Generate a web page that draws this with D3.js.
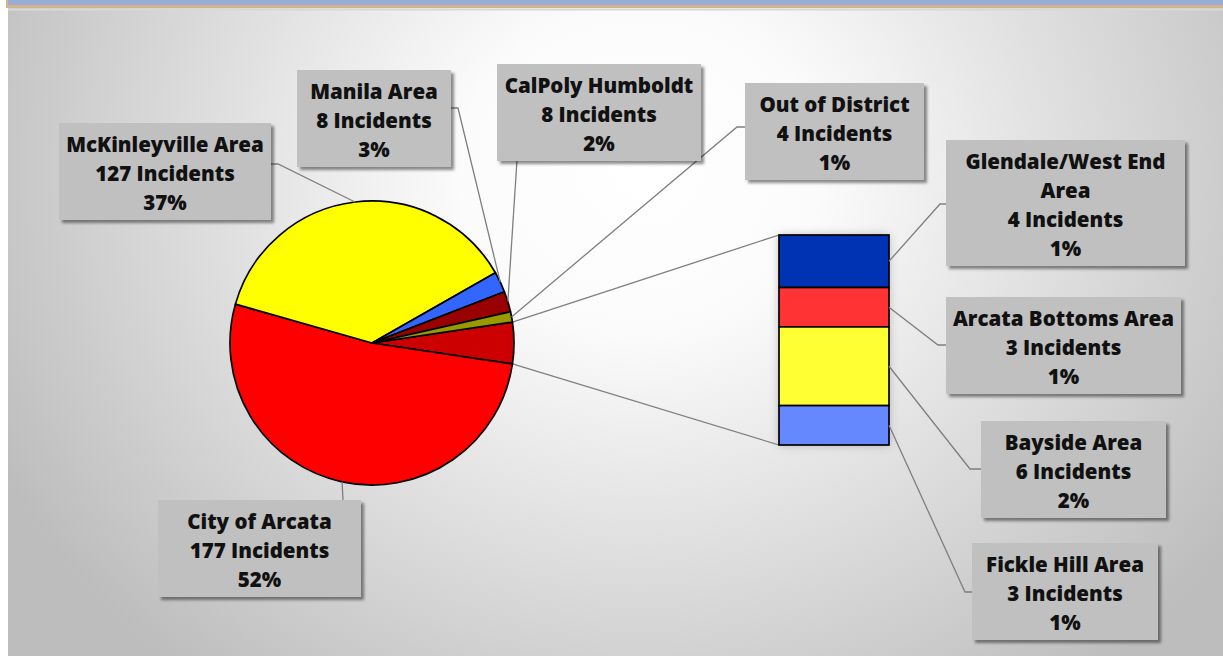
<!DOCTYPE html>
<html>
<head>
<meta charset="utf-8">
<script src="https://cdn.jsdelivr.net/npm/d3@7"></script>
<style>
  html, body { margin: 0; padding: 0; background: #fff; }
  svg { display: block; }
</style>
</head>
<body>
<div id="chart"></div>
<script>
// data
var otherName = "Other";
var pieNames = ["City of Arcata", "McKinleyville Area", "Manila Area", "CalPoly Humboldt", "Out of District"];
var pieValues = [177, 127, 8, 8, 4];
var piePct = ["52%", "37%", "3%", "2%", "1%"];
var barNames = ["Glendale/West End Area", "Arcata Bottoms Area", "Bayside Area", "Fickle Hill Area"];
var barValues = [4, 3, 6, 3];
var barPct = ["1%", "1%", "2%", "1%"];

var pieColors = ["#ff0000", "#ffff00", "#3366ff", "#990000", "#999900"];
var otherColor = "#cc0000";
var barColors = ["#0033b3", "#ff3333", "#ffff33", "#6688ff"];

var width = 1223, height = 656;
var cx = 372, cy = 343, R = 142;
var lineH = 29;

var svg = d3.select("#chart").append("svg")
  .attr("width", width).attr("height", height);

var defs = svg.append("defs");
var bg = defs.append("radialGradient").attr("id", "bg")
  .attr("gradientUnits", "userSpaceOnUse")
  .attr("cx", 640).attr("cy", 170).attr("r", 720)
  .attr("gradientTransform", "translate(640,170) scale(1,0.9) translate(-640,-170)");
bg.append("stop").attr("offset", "0").attr("stop-color", "#ffffff");
bg.append("stop").attr("offset", "0.25").attr("stop-color", "#fbfbfb");
bg.append("stop").attr("offset", "1").attr("stop-color", "#bdbdbd");

var sh = defs.append("filter").attr("id", "shadow")
  .attr("x", "-10%").attr("y", "-10%").attr("width", "125%").attr("height", "130%");
sh.append("feDropShadow").attr("dx", 3).attr("dy", 3).attr("stdDeviation", 1.8)
  .attr("flood-color", "#000").attr("flood-opacity", 0.45);

var glow = defs.append("filter").attr("id", "glow")
  .attr("x", "-30%").attr("y", "-30%").attr("width", "160%").attr("height", "160%");
glow.append("feDropShadow").attr("dx", 0).attr("dy", 0).attr("stdDeviation", 5)
  .attr("flood-color", "#000").attr("flood-opacity", 0.25);

// frame
svg.append("rect").attr("x", 8).attr("y", 8).attr("width", width - 8).attr("height", height - 8)
  .attr("fill", "url(#bg)");
svg.append("rect").attr("x", 6).attr("y", 0).attr("width", width - 6).attr("height", 8).attr("fill", "#d4b48c");
svg.append("rect").attr("x", 8).attr("y", 0).attr("width", width - 8).attr("height", 5).attr("fill", "#97acd7");
svg.append("line").attr("x1", 8).attr("x2", width).attr("y1", 9.5).attr("y2", 9.5)
  .attr("stroke", "#d8d8d8").attr("stroke-width", 2);

// pie: other slice centred on 3 o'clock
var otherValue = d3.sum(barValues);
var pieData = [{ name: otherName, value: otherValue, color: otherColor, other: true }]
  .concat(pieNames.map(function (n, i) {
    return { name: n, value: pieValues[i], color: pieColors[i], pct: piePct[i] };
  }));
var total = d3.sum(pieData, function (d) { return d.value; });
var otherSpan = otherValue / total * 2 * Math.PI;
var start = Math.PI / 2 - otherSpan / 2;

var arcs = d3.pie().sort(null).value(function (d) { return d.value; })
  .startAngle(start).endAngle(start + 2 * Math.PI)(pieData);
var arc = d3.arc().innerRadius(0).outerRadius(R);

function edgePoint(a, r) {
  return [cx + r * Math.sin(a), cy - r * Math.cos(a)];
}

// bar of the "other" slice
var barX = 779, barW = 110, barTop = 235, barBottom = 445;
var barScale = d3.scaleLinear().domain([0, otherValue]).range([barTop, barBottom]);
var cum = 0;
var barData = barNames.map(function (n, i) {
  var d = { name: n, value: barValues[i], color: barColors[i], pct: barPct[i], y0: cum };
  cum += barValues[i];
  d.y1 = cum;
  return d;
});

// connector lines between pie and bar
var oa = arcs[0];
var p1 = edgePoint(oa.startAngle, R), p2 = edgePoint(oa.endAngle, R);
svg.append("line").attr("x1", p1[0]).attr("y1", p1[1]).attr("x2", barX).attr("y2", barScale(0))
  .attr("stroke", "#7f7f7f").attr("stroke-width", 1.3);
svg.append("line").attr("x1", p2[0]).attr("y1", p2[1]).attr("x2", barX).attr("y2", barScale(otherValue))
  .attr("stroke", "#7f7f7f").attr("stroke-width", 1.3);

svg.append("g").attr("transform", "translate(" + cx + "," + cy + ")")
  .selectAll("path").data(arcs).enter().append("path")
  .attr("d", arc)
  .attr("fill", function (d) { return d.data.color; })
  .attr("stroke", "#000").attr("stroke-width", 1.7).attr("stroke-linejoin", "round");

svg.append("rect").attr("x", barX).attr("y", barTop).attr("width", barW).attr("height", barBottom - barTop)
  .attr("fill", "#fff").attr("filter", "url(#glow)");
svg.append("g").selectAll("rect").data(barData).enter().append("rect")
  .attr("x", barX).attr("width", barW)
  .attr("y", function (d) { return barScale(d.y0); })
  .attr("height", function (d) { return barScale(d.y1) - barScale(d.y0); })
  .attr("fill", function (d) { return d.color; })
  .attr("stroke", "#000").attr("stroke-width", 1.7);

// label layout (box positions, leader elbow)
var pieLayout = {
  "City of Arcata":     { x: 158, y: 500, w: 203, ax: 343, ay: 500, ex: 343, ey: 500 },
  "McKinleyville Area": { x: 59, y: 123, w: 212, ax: 271, ay: 164, ex: 278, ey: 164 },
  "Manila Area":        { x: 297, y: 70, w: 154, ax: 451, ay: 108, ex: 458, ey: 108 },
  "CalPoly Humboldt":   { x: 497, y: 64, w: 204, ax: 517, ay: 160, ex: 517, ey: 160 },
  "Out of District":    { x: 745, y: 83, w: 179, ax: 745, ay: 127, ex: 737, ey: 127 }
};
var barLayout = [
  { x: 946, y: 140, w: 239, lines: ["Glendale/West End", "Area"], ex: 940, ey: 204 },
  { x: 946, y: 297, w: 235, ex: 938, ey: 345 },
  { x: 981, y: 421, w: 185, ex: 970, ey: 469 },
  { x: 972, y: 543, w: 186, ex: 965, ey: 592 }
];

var labels = [];
arcs.slice(1).forEach(function (a) {
  var L = pieLayout[a.data.name];
  var mid = (a.startAngle + a.endAngle) / 2;
  var tip = edgePoint(mid, R);
  labels.push({
    x: L.x, y: L.y, w: L.w,
    lines: [a.data.name, a.data.value + " Incidents", a.data.pct],
    path: [tip, [L.ex, L.ey], [L.ax, L.ay]]
  });
});
barData.forEach(function (d, i) {
  var L = barLayout[i];
  var ym = (barScale(d.y0) + barScale(d.y1)) / 2;
  labels.push({
    x: L.x, y: L.y, w: L.w,
    lines: (L.lines || [d.name]).concat([d.value + " Incidents", d.pct]),
    path: [[barX + barW, ym], [L.ex, L.ey], [L.x, L.ey]]
  });
});

var line = d3.line();
svg.append("g").selectAll("path").data(labels).enter().append("path")
  .attr("d", function (d) { return line(d.path); })
  .attr("fill", "none").attr("stroke", "#7f7f7f").attr("stroke-width", 1.3);

var lab = svg.append("g").selectAll("g").data(labels).enter().append("g");
lab.append("rect")
  .attr("x", function (d) { return d.x; })
  .attr("y", function (d) { return d.y; })
  .attr("width", function (d) { return d.w; })
  .attr("height", function (d) { return d.lines.length * lineH + 10; })
  .attr("fill", "#c0c0c0")
  .attr("filter", "url(#shadow)");
lab.each(function (d) {
  var g = d3.select(this);
  d.lines.forEach(function (t, j) {
    g.append("text")
      .attr("x", d.x + d.w / 2)
      .attr("y", d.y + 28.5 + j * lineH)
      .attr("text-anchor", "middle")
      .attr("font-family", "'Open Sans', sans-serif")
      .attr("font-weight", 800)
      .attr("font-size", "20.5px")
      .attr("fill", "#111")
      .text(t);
  });
});
</script>
</body>
</html>
